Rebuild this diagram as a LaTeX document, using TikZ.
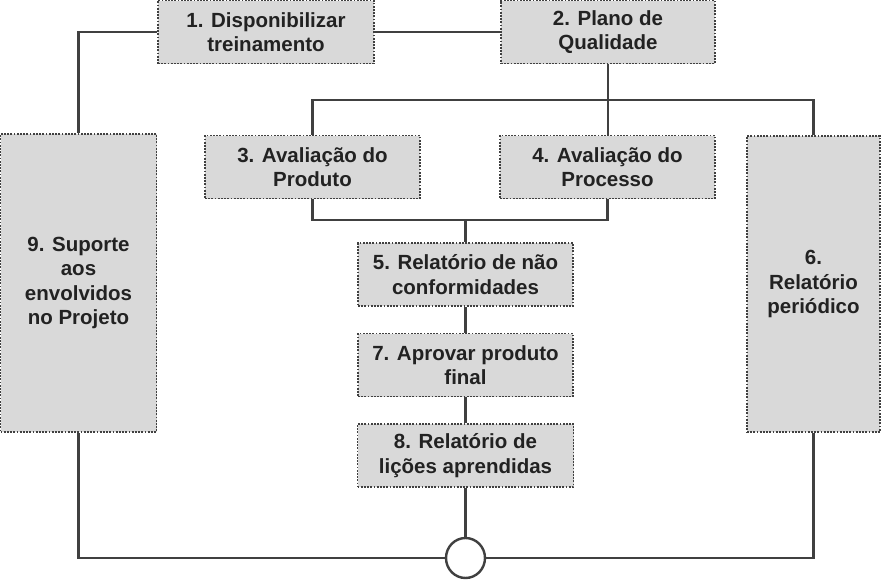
\documentclass[tikz,border=0pt]{standalone}
\usepackage{fontspec}
\setmainfont{Liberation Sans}[BoldFont={Liberation Sans Bold}]
\usetikzlibrary{shapes.geometric}

\definecolor{boxfill}{HTML}{D9D9D9}
\definecolor{boxline}{HTML}{404040}
\definecolor{txt}{HTML}{222222}

\tikzset{
  stepbox/.style={draw=boxline, fill=boxfill, line width=1.8pt,
    dash pattern=on 1.8pt off 1.4pt, rectangle, inner sep=0pt,
    text=txt, align=center, font=\fontsize{20.5}{24.5}\selectfont\bfseries},
  link/.style={draw=boxline, line width=2.6pt}
}

\begin{document}
\begin{tikzpicture}[x=1pt, y=-1pt]
    \useasboundingbox (0,0) rectangle (881,581);

    \node[stepbox, minimum width=216pt, minimum height=63pt] (train) at (266,32) {1. Disponibilizar\\treinamento};
    \node[stepbox, minimum width=214pt, minimum height=63pt] (plan) at (608,32) {2. Plano de\\Qualidade};
    \node[stepbox, minimum width=215pt, minimum height=63pt] (prod) at (312.5,167) {3. Avaliação do\\Produto};
    \node[stepbox, minimum width=215pt, minimum height=63pt] (proc) at (607.5,167) {4. Avaliação do\\Processo};
    \node[stepbox, minimum width=215pt, minimum height=63pt] (nc) at (465.5,274.5) {5. Relatório de não\\conformidades};
    \node[stepbox, minimum width=133pt, minimum height=296pt] (per) at (813.5,284) {6.\\Relatório\\periódico};
    \node[stepbox, minimum width=215pt, minimum height=63pt] (aprov) at (465.5,365) {7. Aprovar produto\\final};
    \node[stepbox, minimum width=216pt, minimum height=63pt] (licoes) at (465.5,455.5) {8. Relatório de\\lições aprendidas};
    \node[stepbox, minimum width=156pt, minimum height=298pt] (sup) at (78.5,283) {9. Suporte\\aos\\envolvidos\\no Projeto};
    \node[draw=boxline, line width=2.4pt, fill=white, ellipse, minimum width=39pt, minimum height=40pt, inner sep=0pt] (junc) at (465.5,558) {};

    \coordinate (topbus) at (0,100);
    \coordinate (midbus) at (0,220);

    \draw[link] (sup.north) |- (train.west);
    \draw[link] (train.east) -- (plan.west);
    \draw[link] (plan.south) -- (plan.south |- proc.north);
    \draw[link] (prod.north) -- (prod.north |- topbus) -| (per.north);
    \draw[link] (prod.south) -- (prod.south |- midbus) -| (proc.south);
    \draw[link] (nc.north |- midbus) -- (nc.north);
    \draw[link] (nc.south) -- (aprov.north);
    \draw[link] (aprov.south) -- (licoes.north);
    \draw[link] (licoes.south) -- (junc.north);
    \draw[link] (sup.south) |- (junc.west);
    \draw[link] (per.south) |- (junc.east);
\end{tikzpicture}
\end{document}
